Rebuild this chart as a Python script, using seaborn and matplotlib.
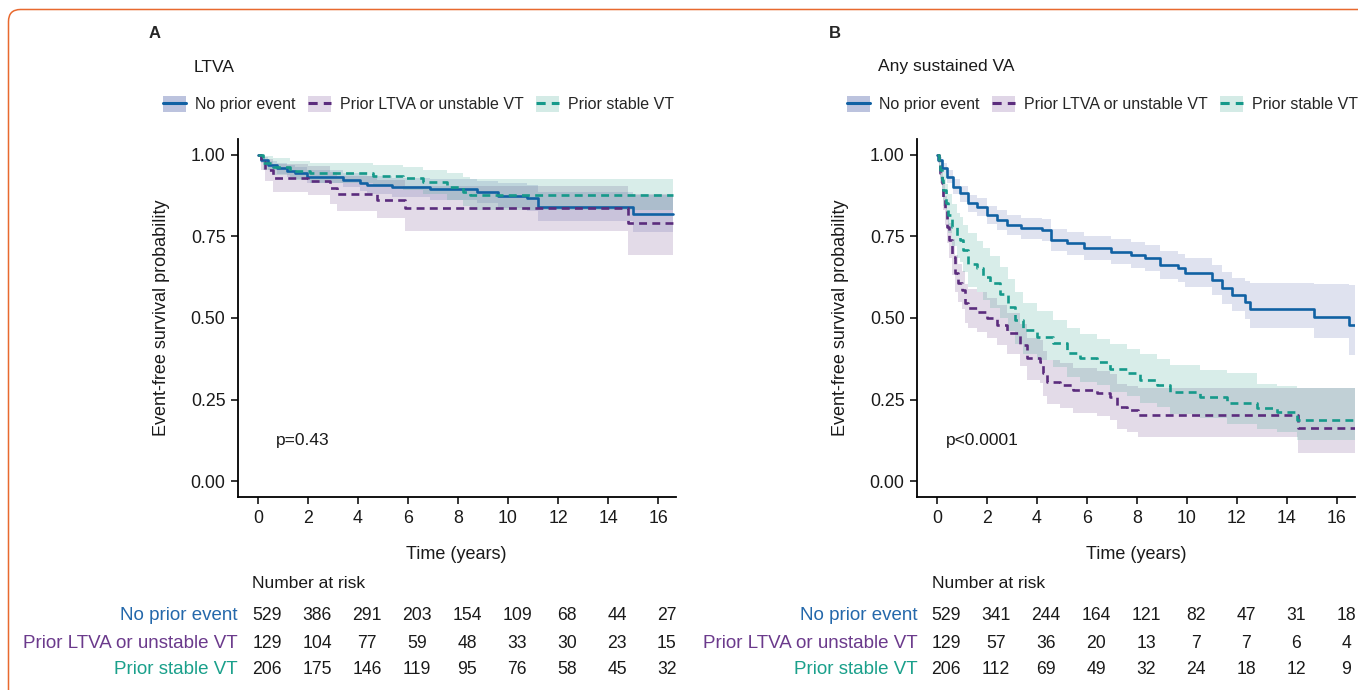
import seaborn as sns
import matplotlib.pyplot as plt
from matplotlib.lines import Line2D
from matplotlib.patches import Patch, FancyBboxPatch
from matplotlib.transforms import IdentityTransform, ScaledTranslation, blended_transform_factory

# ---- panel A: LTVA ----
a_none_t = [0, 0.1, 0.4, 0.75, 1.15, 1.48, 1.95, 3.41, 4.08, 4.35, 5.35, 6.88, 8.75, 9.61, 10.75, 11.21, 15.01, 16.6]
a_none_s = [1.0, 0.985, 0.969, 0.959, 0.952, 0.944, 0.934, 0.923, 0.915, 0.908, 0.901, 0.895, 0.887, 0.875, 0.867, 0.842, 0.819, 0.819]
a_none_lo = [1.0, 0.975, 0.955, 0.943, 0.934, 0.925, 0.914, 0.901, 0.889, 0.880, 0.871, 0.863, 0.853, 0.838, 0.828, 0.798, 0.765, 0.765]
a_none_hi = [1.0, 0.995, 0.983, 0.975, 0.970, 0.964, 0.955, 0.946, 0.941, 0.936, 0.930, 0.926, 0.921, 0.913, 0.907, 0.888, 0.876, 0.876]

a_ltva_t = [0, 0.1, 0.27, 0.61, 2.01, 2.88, 3.15, 4.75, 5.88, 14.81, 16.6]
a_ltva_s = [1.0, 0.979, 0.954, 0.928, 0.921, 0.898, 0.880, 0.862, 0.836, 0.792, 0.792]
a_ltva_lo = [1.0, 0.955, 0.920, 0.886, 0.877, 0.850, 0.829, 0.806, 0.768, 0.693, 0.693]
a_ltva_hi = [1.0, 1.0, 0.988, 0.971, 0.966, 0.949, 0.936, 0.922, 0.905, 0.880, 0.880]

a_svt_t = [0, 0.2, 0.61, 1.28, 2.08, 4.61, 5.81, 6.61, 7.55, 8.21, 8.48, 16.6]
a_svt_s = [1.0, 0.975, 0.964, 0.952, 0.944, 0.937, 0.928, 0.918, 0.903, 0.887, 0.877, 0.877]
a_svt_lo = [1.0, 0.953, 0.938, 0.923, 0.913, 0.904, 0.893, 0.880, 0.862, 0.843, 0.830, 0.830]
a_svt_hi = [1.0, 0.997, 0.990, 0.981, 0.975, 0.970, 0.962, 0.955, 0.944, 0.932, 0.926, 0.926]

# ---- panel B: any sustained VA ----
b_none_t = [0, 0.04, 0.2, 0.39, 0.65, 0.92, 1.25, 1.59, 2.0, 2.4, 2.8, 3.34, 4.2, 4.54, 5.2, 5.87, 6.95, 7.76, 8.3, 8.9,
            9.64, 9.9, 11.0, 11.4, 11.8, 12.3, 12.5, 15.06, 16.47, 16.7]
b_none_s = [1.0, 0.985, 0.96, 0.934, 0.903, 0.882, 0.852, 0.841, 0.816, 0.801, 0.785, 0.775, 0.770, 0.739, 0.729, 0.714,
            0.703, 0.693, 0.683, 0.663, 0.652, 0.639, 0.617, 0.591, 0.571, 0.550, 0.527, 0.504, 0.479, 0.479]
b_none_lo = [1.0, 0.975, 0.945, 0.915, 0.881, 0.857, 0.826, 0.813, 0.787, 0.771, 0.754, 0.743, 0.737, 0.704, 0.693, 0.677,
             0.665, 0.654, 0.643, 0.621, 0.609, 0.595, 0.571, 0.543, 0.521, 0.498, 0.470, 0.440, 0.386, 0.386]
b_none_hi = [1.0, 0.995, 0.975, 0.953, 0.925, 0.906, 0.878, 0.868, 0.845, 0.831, 0.816, 0.807, 0.803, 0.774, 0.765, 0.751,
             0.741, 0.732, 0.723, 0.705, 0.695, 0.683, 0.663, 0.640, 0.622, 0.612, 0.608, 0.604, 0.600, 0.600]

b_ltva_t = [0, 0.06, 0.12, 0.19, 0.25, 0.32, 0.39, 0.49, 0.59, 0.72, 0.85, 0.99, 1.12, 1.25, 1.59, 1.99, 2.39, 2.79,
            3.32, 3.59, 4.12, 4.25, 4.39, 4.92, 5.45, 6.39, 6.92, 7.19, 7.6, 8.05, 14.45, 16.7]
b_ltva_s = [1.0, 0.975, 0.944, 0.913, 0.872, 0.831, 0.780, 0.739, 0.688, 0.637, 0.606, 0.586, 0.545, 0.530, 0.519, 0.499,
            0.478, 0.453, 0.417, 0.376, 0.366, 0.330, 0.304, 0.294, 0.279, 0.269, 0.259, 0.228, 0.218, 0.202, 0.162, 0.162]
b_ltva_lo = [1.0, 0.955, 0.915, 0.875, 0.83, 0.785, 0.73, 0.685, 0.632, 0.58, 0.548, 0.527, 0.485, 0.47, 0.458, 0.438,
             0.416, 0.39, 0.353, 0.31, 0.30, 0.262, 0.235, 0.225, 0.21, 0.198, 0.188, 0.16, 0.15, 0.136, 0.086, 0.086]
b_ltva_hi = [1.0, 0.99, 0.97, 0.948, 0.912, 0.874, 0.828, 0.79, 0.742, 0.693, 0.665, 0.645, 0.605, 0.59, 0.58, 0.56,
             0.54, 0.516, 0.482, 0.44, 0.432, 0.398, 0.372, 0.362, 0.348, 0.338, 0.328, 0.298, 0.29, 0.284, 0.284, 0.284]

b_svt_t = [0, 0.06, 0.12, 0.19, 0.25, 0.36, 0.45, 0.59, 0.79, 0.92, 1.05, 1.25, 1.59, 1.85, 2.12, 2.52, 2.85, 3.12,
           3.45, 3.99, 4.65, 5.19, 5.72, 6.39, 6.92, 7.59, 8.12, 8.79, 9.32, 10.52, 11.59, 12.79, 13.59, 14.39, 16.7]
b_svt_s = [1.0, 0.98, 0.954, 0.923, 0.893, 0.852, 0.816, 0.780, 0.750, 0.739, 0.709, 0.667, 0.652, 0.627, 0.606, 0.575,
           0.535, 0.494, 0.463, 0.443, 0.422, 0.392, 0.376, 0.366, 0.345, 0.330, 0.309, 0.294, 0.274, 0.259, 0.238,
           0.223, 0.213, 0.187, 0.187]
b_svt_lo = [1.0, 0.96, 0.925, 0.885, 0.845, 0.80, 0.76, 0.72, 0.685, 0.672, 0.64, 0.596, 0.58, 0.555, 0.532, 0.50,
            0.46, 0.42, 0.39, 0.37, 0.35, 0.32, 0.305, 0.294, 0.274, 0.26, 0.24, 0.226, 0.207, 0.193, 0.175, 0.16,
            0.15, 0.125, 0.125]
b_svt_hi = [1.0, 0.995, 0.985, 0.965, 0.945, 0.91, 0.88, 0.85, 0.822, 0.81, 0.785, 0.76, 0.735, 0.715, 0.69, 0.655,
            0.62, 0.58, 0.545, 0.52, 0.495, 0.468, 0.45, 0.435, 0.42, 0.405, 0.39, 0.375, 0.356, 0.34, 0.33, 0.299,
            0.29, 0.284, 0.284]

groups = ['No prior event', 'Prior LTVA or unstable VT', 'Prior stable VT']
risk_times = [0, 2, 4, 6, 8, 10, 12, 14, 16]
a_risk_none = [529, 386, 291, 203, 154, 109, 68, 44, 27]
a_risk_ltva = [129, 104, 77, 59, 48, 33, 30, 23, 15]
a_risk_svt = [206, 175, 146, 119, 95, 76, 58, 45, 32]
b_risk_none = [529, 341, 244, 164, 121, 82, 47, 31, 18]
b_risk_ltva = [129, 57, 36, 20, 13, 7, 7, 6, 4]
b_risk_svt = [206, 112, 69, 49, 32, 24, 18, 12, 9]

line_cols = ['#1161a3', '#5b2c7d', '#16998a']
fill_cols = ['#5f6eaf', '#734b8c', '#3ca591']
key_cols = ['#bcc3de', '#e0d6e7', '#d4ebe6']
label_cols = ['#2468ab', '#6b3a8c', '#1aa08b']
styles = ['-', (0, (3, 2)), (0, (3, 2))]

sns.set_theme(style='ticks')
plt.rcParams['font.family'] = ['Liberation Sans', 'DejaVu Sans']

W, H = 1358, 690
fig = plt.figure(figsize=(W / 100, H / 100), dpi=100)


def px_axes(left, right, top, bottom):
    return fig.add_axes([left / W, 1 - bottom / H, (right - left) / W, (bottom - top) / H])


axA = px_axes(238, 675.5, 138.7, 497.3)
axB = px_axes(917, 1354.5, 138.7, 497.3)


def draw_panel(ax, curves, pval, px):
    for i, (t, s, lo, hi) in enumerate(curves):
        ax.fill_between(t, lo, hi, step='post', color=fill_cols[i], alpha=0.2, lw=0)
    for i, (t, s, lo, hi) in enumerate(curves):
        sns.lineplot(x=t, y=s, ax=ax, drawstyle='steps-post', color=line_cols[i], linestyle=styles[i],
                     lw=1.9, estimator=None, legend=False)
    ax.set_xlim(-0.8, 16.7)
    ax.set_ylim(-0.05, 1.05)
    ax.set_xticks(risk_times)
    ax.set_yticks([0, 0.25, 0.5, 0.75, 1.0])
    ax.set_yticklabels(['0.00', '0.25', '0.50', '0.75', '1.00'])
    ax.tick_params(labelsize=12.8, length=5, width=1.1, color='black', labelcolor='#1a1a1a', pad=4)
    sns.despine(ax=ax)
    for sp in ['left', 'bottom']:
        ax.spines[sp].set_linewidth(1.3)
        ax.spines[sp].set_color('black')
    ax.set_xlabel('Time (years)', fontsize=13, labelpad=14, color='#1a1a1a')
    ax.set_ylabel('Event-free survival probability', fontsize=13, labelpad=15, color='#1a1a1a')
    ax.text(px, 0.125, pval, fontsize=12.5, va='center', ha='left', color='#1a1a1a')


draw_panel(axA, [(a_none_t, a_none_s, a_none_lo, a_none_hi),
                 (a_ltva_t, a_ltva_s, a_ltva_lo, a_ltva_hi),
                 (a_svt_t, a_svt_s, a_svt_lo, a_svt_hi)], 'p=0.43', 0.72)
draw_panel(axB, [(b_none_t, b_none_s, b_none_lo, b_none_hi),
                 (b_ltva_t, b_ltva_s, b_ltva_lo, b_ltva_hi),
                 (b_svt_t, b_svt_s, b_svt_lo, b_svt_hi)], 'p<0.0001', 0.36)

# panel letters, titles, legends
handles = [(Patch(facecolor=key_cols[i], edgecolor='none'),
            Line2D([], [], color=line_cols[i], linestyle=styles[i], lw=2.2)) for i in range(3)]
for letter, title, x0, x1 in [('A', 'LTVA', 0, 0), ('B', 'Any sustained VA', 680, 684)]:
    fig.text((149 + x0) / W, 1 - 33.5 / H, letter, fontsize=12, fontweight='bold', va='center', ha='left')
    fig.text((194 + x1) / W, 1 - 67 / H, title, fontsize=12.5, va='center', ha='left', color='#1a1a1a')
    fig.legend(handles, groups, loc='center left', bbox_to_anchor=((163 + x1) / W, 1 - 104 / H), ncol=3,
               frameon=False, fontsize=11.5, handlelength=1.45, handleheight=1.15, handletextpad=0.55,
               columnspacing=0.78, borderpad=0, borderaxespad=0)

# risk tables (columns sit a little right of the time ticks, as in the original)
shift = ScaledTranslation(9 / 100, 0, fig.dpi_scale_trans)
risk_sets = [(axA, 0, [a_risk_none, a_risk_ltva, a_risk_svt]),
             (axB, 680, [b_risk_none, b_risk_ltva, b_risk_svt])]
rows_y = [616, 643, 670]
for ax, x0, tables in risk_sets:
    fig.text((251.5 + x0) / W, 1 - 583 / H, 'Number at risk', fontsize=12.5, va='center', ha='left', color='#1a1a1a')
    trans = blended_transform_factory(ax.transData, fig.transFigure) + shift
    for i, row in enumerate(tables):
        yy = 1 - rows_y[i] / H
        fig.text((238 + x0) / W, yy, groups[i], fontsize=13.5, color=label_cols[i], va='center', ha='right')
        for tx, n in zip(risk_times, row):
            ax.text(tx, yy, str(n), transform=trans, fontsize=12.7, ha='center', va='center',
                    color='#1a1a1a', clip_on=False)

# orange rounded frame
frame = FancyBboxPatch((8.5, -60), W + 60, H - 9.5 + 60, boxstyle='round,pad=0,rounding_size=12',
                       transform=IdentityTransform(), facecolor='none', edgecolor='#e8692f', lw=1.1)
fig.add_artist(frame)

fig.savefig('out.png', dpi=100)
